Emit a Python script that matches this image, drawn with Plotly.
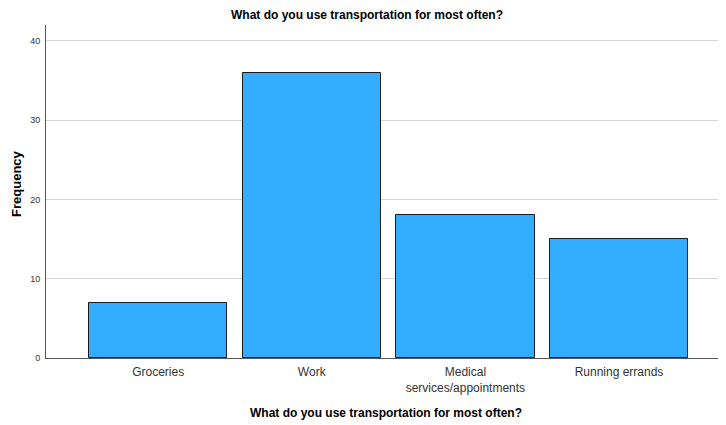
import plotly.graph_objects as go

categories = ["Groceries", "Work", "Medical<br>services/appointments", "Running errands"]
frequency = [7, 36, 18, 15]
y_ticks = [0, 10, 20, 30, 40]
chart_title = "What do you use transportation for most often?"
x_title = "What do you use transportation for most often?"
y_title = "Frequency"

fig = go.Figure(go.Bar(
    x=list(range(len(categories))), y=frequency, width=0.9,
    marker=dict(color="#33adff", line=dict(color="#1a1a1a", width=1)),
))

fig.update_layout(
    width=718, height=417,
    margin=dict(l=38, r=1, t=17, b=67, autoexpand=False),
    paper_bgcolor="white", plot_bgcolor="white",
    font=dict(family="Liberation Sans, Arial, sans-serif", color="#333333"),
    title=dict(text="<b>" + chart_title + "</b>",
               x=0.5, xanchor="center", y=0.983, yanchor="middle",
               font=dict(size=12, color="#000000")),
    showlegend=False,
    bargap=0,
    annotations=[
        dict(text="<b>" + x_title + "</b>", xref="paper", yref="paper",
             x=0.5, y=-0.165, xanchor="center", yanchor="middle", showarrow=False,
             font=dict(size=12, color="#000000")),
        dict(text="<b>" + y_title + "</b>", xref="paper", yref="paper",
             x=-0.0445, y=0.525, xanchor="center", yanchor="middle", showarrow=False,
             textangle=-90, font=dict(size=13, color="#000000")),
    ],
)
fig.update_xaxes(
    range=[-0.73, 3.69], tickmode="array", tickvals=list(range(len(categories))),
    ticktext=categories, tickfont=dict(size=12, color="#333333"),
    showline=True, linecolor="#555555", linewidth=1, ticks="", showgrid=False,
    automargin=False, ticklabelstandoff=3,
)
fig.update_yaxes(
    range=[0, 42], tickvals=y_ticks, tickfont=dict(size=9, color="#333333"),
    showline=True, linecolor="#555555", linewidth=1, ticks="",
    ticklabelstandoff=3,
    showgrid=True, gridcolor="#d4d4d4", gridwidth=1, zeroline=False,
    automargin=False,
)

fig.write_html("out.html")
